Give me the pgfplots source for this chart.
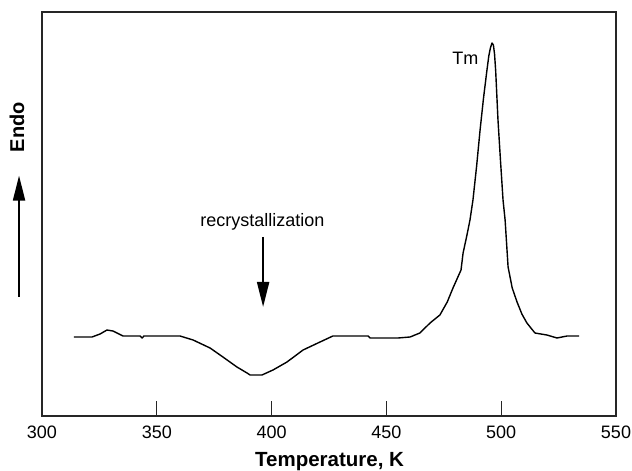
\documentclass[border=0pt]{standalone}
\usepackage{pgfplots}
\pgfplotsset{compat=1.18}
\usepackage{fontspec}
\setmainfont{Liberation Sans}
\usetikzlibrary{arrows.meta}
\begin{document}
\begin{tikzpicture}[x=1pt,y=1pt]
\path[use as bounding box] (0,0) rectangle (632,471);
\begin{axis}[
  at={(42pt,55pt)}, anchor=south west,
  scale only axis, width=574pt, height=404pt,
  xmin=300, xmax=550, ymin=0, ymax=404,
  clip=false,
  axis line style={line width=1.3pt, black!85},
  xtick={300,350,...,550}, ytick=\empty,
  xtick pos=bottom, xtick align=inside,
  major tick length=15pt,
  tick style={line width=1pt, black!85},
  /pgf/number format/assume math mode=true,
  xticklabel style={font=\fontsize{18}{20}\selectfont, inner sep=0pt, anchor=north, yshift=-10pt},
  xlabel={\textbf{Temperature, K}},
  xlabel style={font=\fontsize{20.5}{22}\selectfont, at={(axis description cs:0.501,-0.126)}, anchor=base, inner sep=0pt},
]
\addplot[black, line width=1.4pt, line join=round] coordinates {
(313.9,79) (321.8,79) (325.3,82) (328.3,86) (330.9,85) (335.3,80)
(342.7,80) (343.6,78) (344.4,80) (360.1,80) (365.8,76) (373.2,68)
(378.8,59) (384.9,49) (389.3,43) (390.6,41) (395.8,41) (400.6,46)
(406.7,54) (413.7,66) (421.1,74) (426.7,80) (442.0,80) (442.9,78)
(455.1,78) (460.3,79) (464.6,83) (469.0,93) (473.3,101) (476.5,114) (479.0,128)
(482.5,146) (483.4,163) (485.0,180) (486.4,196) (487.7,216) (489.3,250) (490.8,286) (492.3,318) (493.8,346)
(494.6,360) (495.3,368) (496.0,373) (496.6,371) (497.1,362) (497.6,345) (498.6,296) (499.7,255) (500.8,216)
(501.7,196) (503.0,149) (504.8,128) (506.9,114) (509.0,102) (511.2,93) (514.7,83) (519.9,81)
(524.3,78) (528.7,80) (533.9,80)
};
\node[font=\fontsize{18}{20}\selectfont, inner sep=0pt] at (axis cs:396.0,194) {recrystallization};
\draw[-{Triangle[length=25pt,width=12pt]}, line width=2pt] (axis cs:396.3,179) -- (axis cs:396.3,109);
\node[font=\fontsize{18}{20}\selectfont, inner sep=0pt] at (axis cs:484.4,358) {Tm};
\node[font=\bfseries\fontsize{20}{22}\selectfont, inner sep=0pt, rotate=90] at (axis description cs:-0.0436,0.715) {Endo};
\draw[-{Triangle[length=25pt,width=12pt]}, line width=2pt] (axis description cs:-0.040,0.295) -- (axis description cs:-0.040,0.595);
\end{axis}
\end{tikzpicture}
\end{document}
